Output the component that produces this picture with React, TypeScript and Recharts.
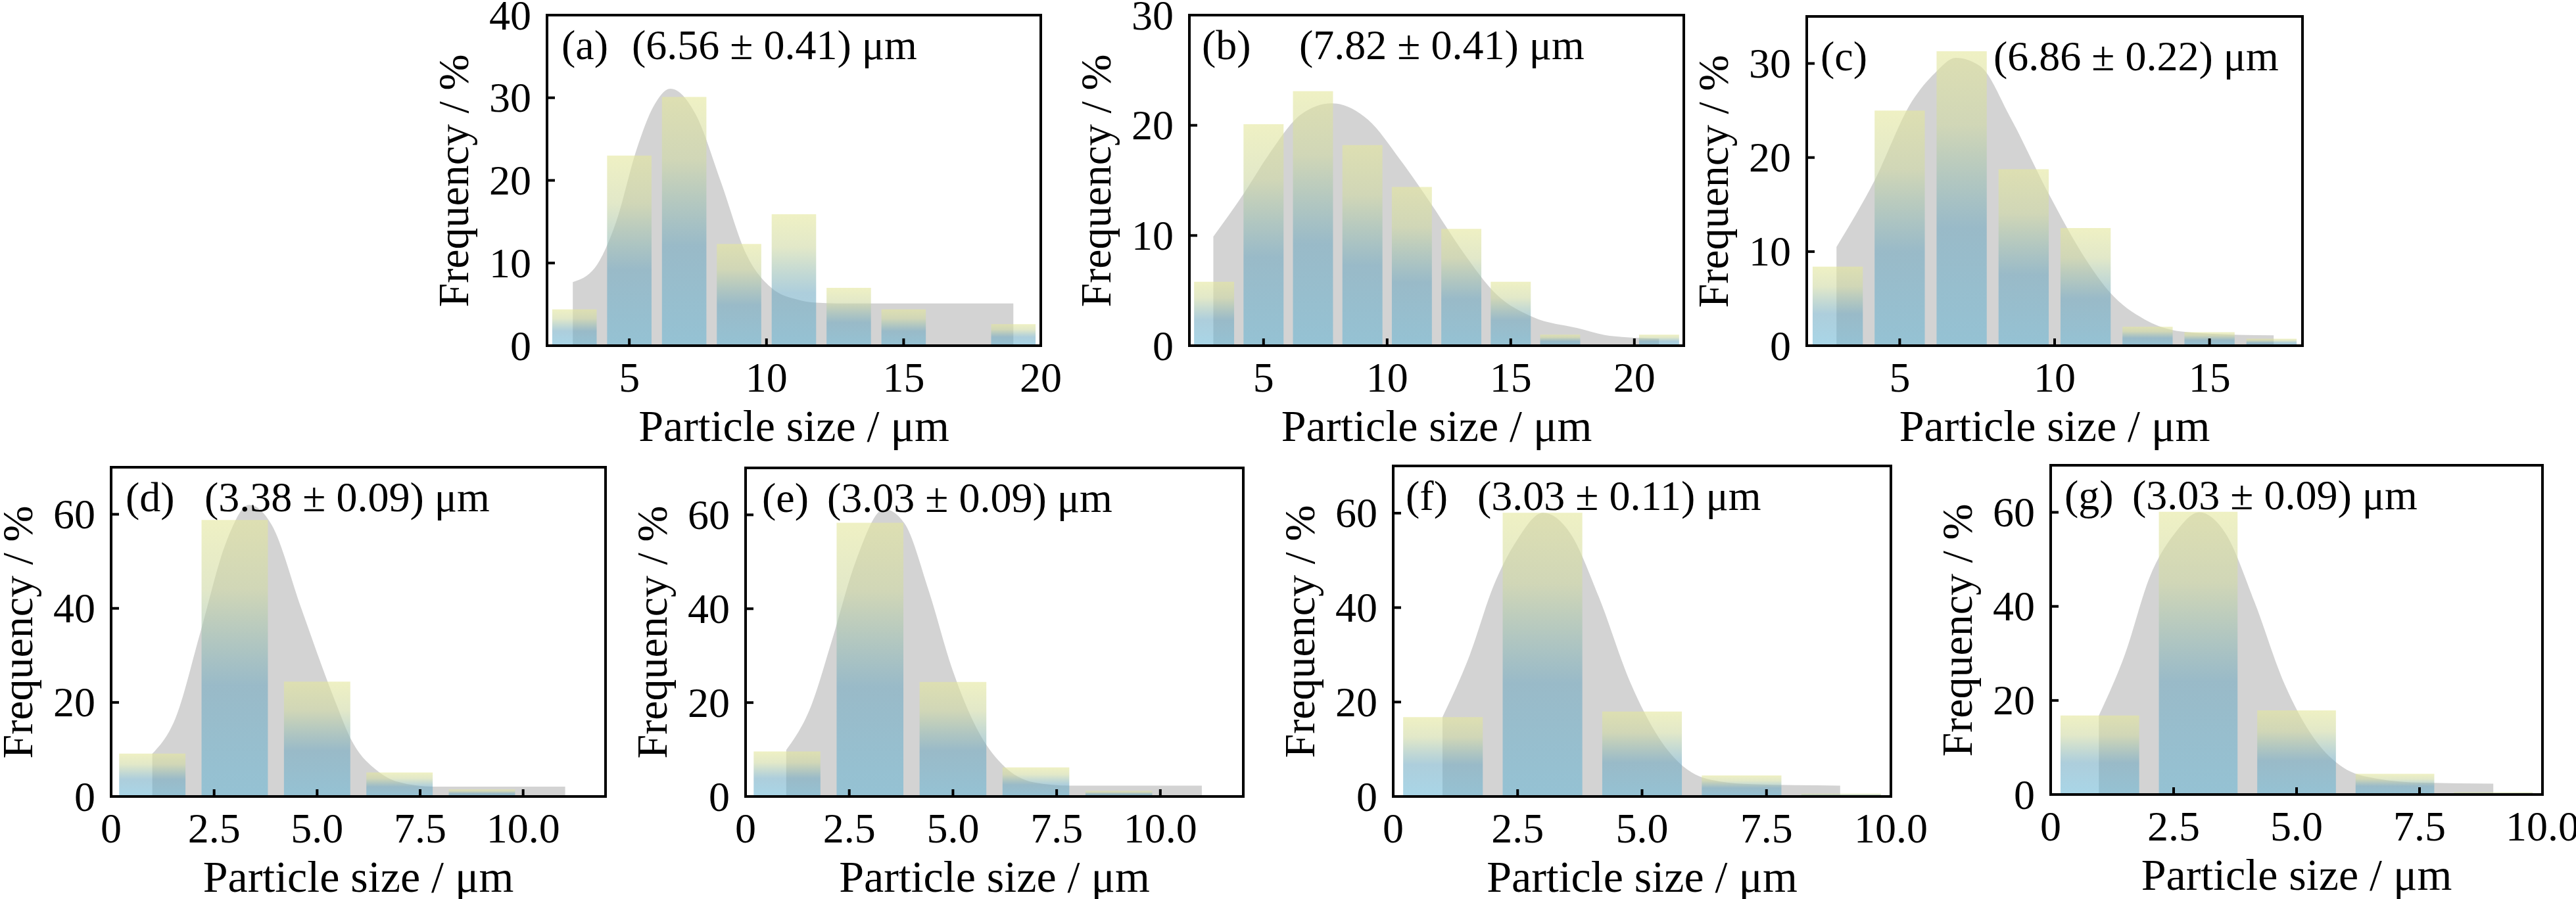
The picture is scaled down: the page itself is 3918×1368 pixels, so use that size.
import React from "react";
import { ComposedChart, Area, XAxis, YAxis, ReferenceArea } from "recharts";

// ---- data ----
const binCentersA = [3, 5, 7, 9, 11, 13, 15, 19];
const freqA = [4.4, 23, 30.1, 12.3, 15.9, 7.0, 4.4, 2.6];
const fitXA = [2.94, 3.74, 4.51, 5.28, 5.89, 6.5, 7.42, 8.34, 9.26, 10.18, 11.1, 11.8, 13, 19.0];
const fitYA = [7.7, 9.4, 14.9, 23.9, 29, 31.1, 28, 19.8, 11.1, 7, 5.6, 5.2, 5.1, 5.1];

const binCentersB = [3, 5, 7, 9, 11, 13, 15, 17, 21];
const freqB = [5.8, 20.1, 23.1, 18.2, 14.4, 10.6, 5.8, 1.0, 1.0];
const fitXB = [2.97, 4.2, 5.23, 6.52, 7.75, 9.23, 10.52, 11.8, 13.1, 14.4, 15.9, 17.7, 19, 21.0];
const fitYB = [9.9, 13.8, 17.4, 21.0, 22.0, 20.5, 16.9, 12.8, 8.4, 4.7, 2.6, 1.6, 0.9, 0.64];

const binCentersC = [3, 5, 7, 9, 11, 13, 15, 17];
const freqC = [8.4, 25.0, 31.3, 18.75, 12.5, 2.0, 1.44, 0.74];
const fitXC = [2.96, 4.18, 5.4, 6.14, 6.81, 7.6, 8.58, 9.8, 11.0, 11.8, 12.9, 14.1, 15.9, 17.07];
const fitYC = [10.5, 17.5, 26, 29, 30.6, 29.7, 24.2, 16.2, 9.2, 5.6, 2.8, 1.5, 1.16, 1.1];

const binCentersD = [1, 3, 5, 7, 9];
const freqD = [9.1, 58.8, 24.4, 5.1, 1.5];
const fitXD = [1.0, 1.56, 2.17, 2.79, 3.35, 3.9, 4.62, 5.44, 5.85, 6.46, 6.97, 7.79, 11.02];
const fitYD = [9.1, 16.6, 35, 54, 62, 57.7, 39.9, 20.2, 11.7, 5.5, 3.1, 2.1, 2.1];

const binCentersE = [1, 3, 5, 7, 9];
const freqE = [9.6, 58.3, 24.4, 6.2, 1.2];
const fitXE = [0.98, 1.58, 2.07, 2.66, 3.34, 3.83, 4.41, 5.0, 5.58, 6.17, 6.95, 7.82, 11.0];
const fitYE = [9.9, 19.3, 32.9, 50.2, 61.2, 58.2, 44, 26.7, 14.4, 7, 3, 2.3, 2.3];

const binCentersF = [1, 3, 5, 7, 9];
const freqF = [16.8, 60.1, 18.0, 4.45, 0.6];
const fitXF = [0.99, 1.54, 2.02, 2.5, 3.01, 3.56, 4.13, 4.77, 5.34, 5.91, 6.55, 7.2, 8.98];
const fitYF = [16.8, 30, 44.7, 54.5, 60.1, 55.7, 42.3, 24, 12.4, 5.7, 3.2, 2.6, 2.3];

const binCentersG = [1, 3, 5, 7, 9];
const freqG = [16.8, 60.1, 17.9, 4.4, 0.5];
const fitXG = [0.98, 1.51, 2.02, 2.53, 3.02, 3.55, 4.15, 4.75, 5.35, 5.94, 6.62, 7.56, 9.0];
const fitYG = [16.8, 29.8, 46.4, 55.6, 60, 55.6, 40.8, 23.6, 12, 5.8, 3.4, 2.5, 2.3];

const xTicksTop = [5, 10, 15, 20];
const xTicksC = [5, 10, 15];
const xTicksBottom = [0, 2.5, 5, 7.5, 10];
const yTicksA = [0, 10, 20, 30, 40];
const yTicksB = [0, 10, 20, 30];
const yTicksBottom = [0, 20, 40, 60];

const xTickFmtBottom = (v: number) => (v === 0 ? "0" : v.toFixed(1));
const xTickFmtInt = (v: number) => String(v);

const panels = [
  { id: "a", label: "(a)", value: "(6.56 ± 0.41) μm", centers: binCentersA, freq: freqA, fx: fitXA, fy: fitYA, xDom: [2, 20], yDom: [0, 40], xTicks: xTicksTop, yTicks: yTicksA, fmt: xTickFmtInt, binW: 1.62 },
  { id: "b", label: "(b)", value: "(7.82 ± 0.41) μm", centers: binCentersB, freq: freqB, fx: fitXB, fy: fitYB, xDom: [2, 22], yDom: [0, 30], xTicks: xTicksTop, yTicks: yTicksB, fmt: xTickFmtInt, binW: 1.62 },
  { id: "c", label: "(c)", value: "(6.86 ± 0.22) μm", centers: binCentersC, freq: freqC, fx: fitXC, fy: fitYC, xDom: [2, 18], yDom: [0, 35], xTicks: xTicksC, yTicks: yTicksB, fmt: xTickFmtInt, binW: 1.62 },
  { id: "d", label: "(d)", value: "(3.38 ± 0.09) μm", centers: binCentersD, freq: freqD, fx: fitXD, fy: fitYD, xDom: [0, 12], yDom: [0, 70], xTicks: xTicksBottom, yTicks: yTicksBottom, fmt: xTickFmtBottom, binW: 1.61 },
  { id: "e", label: "(e)", value: "(3.03 ± 0.09) μm", centers: binCentersE, freq: freqE, fx: fitXE, fy: fitYE, xDom: [0, 12], yDom: [0, 70], xTicks: xTicksBottom, yTicks: yTicksBottom, fmt: xTickFmtBottom, binW: 1.61 },
  { id: "f", label: "(f)", value: "(3.03 ± 0.11) μm", centers: binCentersF, freq: freqF, fx: fitXF, fy: fitYF, xDom: [0, 10], yDom: [0, 70], xTicks: xTicksBottom, yTicks: yTicksBottom, fmt: xTickFmtBottom, binW: 1.6 },
  { id: "g", label: "(g)", value: "(3.03 ± 0.09) μm", centers: binCentersG, freq: freqG, fx: fitXG, fy: fitYG, xDom: [0, 10], yDom: [0, 70], xTicks: xTicksBottom, yTicks: yTicksBottom, fmt: xTickFmtBottom, binW: 1.6 },
];

// layout (pixels): box left, top, width, height, annotation offsets
const layout: Record<string, any> = {
  a: { left: 832, top: 23, w: 751, h: 503, lx: 22, vx: 129, vy: 0 },
  b: { left: 1809, top: 23, w: 752, h: 503, lx: 19, vx: 167, vy: 0 },
  c: { left: 2748, top: 25, w: 754, h: 501, lx: 21, vx: 284, vy: 15 },
  d: { left: 169, top: 711, w: 752, h: 501, lx: 22, vx: 142, vy: 0 },
  e: { left: 1134, top: 712, w: 757, h: 500, lx: 25, vx: 124, vy: 0 },
  f: { left: 2119, top: 709, w: 757, h: 503, lx: 19, vx: 128, vy: 0 },
  g: { left: 3119, top: 708, w: 748, h: 501, lx: 21, vx: 124, vy: 0 },
};

const FONT = "'Liberation Serif', 'Times New Roman', serif";
const ML = 220, MR = 80, MT = 80, MB = 180;
const AX = 60;

function Panel({ p }: { p: any }) {
  const L = layout[p.id];
  const fitData = p.fx.map((x: number, i: number) => ({ x, y: p.fy[i] }));
  const bottomY = MT + L.h;
  const XTick = (props: any) => {
    const { x, payload } = props;
    return (
      <g>
        <line x1={x} x2={x} y1={bottomY} y2={bottomY - 11} stroke="#000" strokeWidth={4} />
        <text x={x} y={bottomY + 48} textAnchor="middle" dominantBaseline="central" fontFamily={FONT} fontSize={64} fill="#000">
          {p.fmt(payload.value)}
        </text>
      </g>
    );
  };
  const YTick = (props: any) => {
    const { y, payload } = props;
    return (
      <g>
        <line x1={ML} x2={ML + 12} y1={y} y2={y} stroke="#000" strokeWidth={4} />
        <text x={ML - 24} y={y} textAnchor="end" dominantBaseline="central" fontFamily={FONT} fontSize={64} fill="#000">
          {payload.value}
        </text>
      </g>
    );
  };
  return (
    <div style={{ position: "absolute", left: L.left - ML, top: L.top - MT }}>
      <ComposedChart width={L.w + ML + MR} height={L.h + MT + MB} margin={{ top: MT, right: MR, bottom: MB - AX, left: ML - AX }} style={{ overflow: "visible" }}>
        <XAxis dataKey="x" type="number" domain={p.xDom} ticks={p.xTicks} allowDataOverflow interval={0} height={AX} tickSize={0} tickMargin={0} axisLine={false} tickLine={false} tick={<XTick />} />
        <YAxis type="number" domain={p.yDom} ticks={p.yTicks} allowDataOverflow interval={0} width={AX} tickSize={0} tickMargin={0} axisLine={false} tickLine={false} tick={<YTick />} />
        <Area data={fitData} dataKey="y" type="monotone" stroke="none" fill="#d3d3d3" fillOpacity={1} isAnimationActive={false} baseValue={0} />
        {p.centers.map((c: number, i: number) => (
          <ReferenceArea key={i} x1={c - p.binW / 2} x2={c + p.binW / 2} y1={0} y2={p.freq[i]} fill="url(#barGrad)" fillOpacity={1} stroke="none" zIndex={600} ifOverflow="visible" />
        ))}
        <ReferenceArea x1={p.xDom[0]} x2={p.xDom[1]} y1={p.yDom[0]} y2={p.yDom[1]} fill="none" fillOpacity={0} stroke="#000" strokeWidth={4} zIndex={700} ifOverflow="visible" />
      </ComposedChart>
      <div style={{ position: "absolute", left: ML + L.lx, top: MT + 46 + L.vy - 38, fontFamily: FONT, fontSize: 64, lineHeight: "76px", whiteSpace: "nowrap" }}>{p.label}</div>
      <div style={{ position: "absolute", left: ML + L.vx, top: MT + 46 + L.vy - 38, fontFamily: FONT, fontSize: 64, lineHeight: "76px", whiteSpace: "nowrap" }}>{p.value}</div>
      <div style={{ position: "absolute", left: ML + L.w / 2, top: bottomY + 122, transform: "translate(-50%, -50%)", fontFamily: FONT, fontSize: 68, whiteSpace: "nowrap" }}>Particle size / μm</div>
      <div style={{ position: "absolute", left: ML - 142, top: MT + L.h / 2, transform: "translate(-50%, -50%) rotate(-90deg)", fontFamily: FONT, fontSize: 66, whiteSpace: "nowrap" }}>Frequency / %</div>
    </div>
  );
}

export default function App() {
  return (
    <div style={{ position: "absolute", left: 0, top: 0, width: 3918, height: 1368, background: "#fff", overflow: "hidden" }}>
      <svg width={0} height={0} style={{ position: "absolute" }}>
        <defs>
          <linearGradient id="barGrad" x1="0" y1="0" x2="0" y2="1">
            <stop offset="0" stopColor="#e4e79c" stopOpacity={0.6} />
            <stop offset="0.25" stopColor="#cfd9a4" stopOpacity={0.6} />
            <stop offset="0.6" stopColor="#6aa6bf" stopOpacity={0.55} />
            <stop offset="1" stopColor="#62b4d4" stopOpacity={0.55} />
          </linearGradient>
        </defs>
      </svg>
      {panels.map((p) => (
        <Panel key={p.id} p={p} />
      ))}
    </div>
  );
}
